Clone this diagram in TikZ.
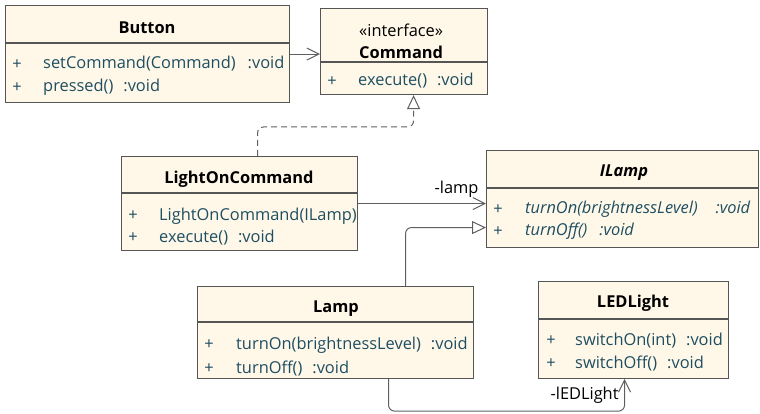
\documentclass[tikz,border=0pt]{standalone}
\usepackage{fontspec}
\setmainfont{Open Sans}
\usetikzlibrary{arrows.meta}

\definecolor{boxfill}{RGB}{255,248,232}
\definecolor{boxline}{RGB}{85,85,85}
\definecolor{membertext}{RGB}{30,78,98}
\definecolor{linkgray}{RGB}{95,95,95}

\tikzset{
  classbox/.style={draw=boxline, fill=boxfill, line width=1.1pt, anchor=north west, inner sep=0pt},
  classname/.style={font=\bfseries, inner sep=0pt},
  plus/.style={text=membertext, inner sep=0pt},
  member/.style={text=membertext, anchor=west, inner sep=0pt, text height=11pt, text depth=3pt},
  sepline/.style={draw=boxline, line width=1.1pt},
  assoc/.style={draw=linkgray, line width=1pt, rounded corners=6pt, -{Straight Barb[length=12pt,width=12pt]}},
  generalize/.style={draw=linkgray, line width=1pt, rounded corners=6pt, -{Triangle[length=14pt,width=13pt,fill=white]}},
}

\begin{document}
\fontsize{16.4}{20}\selectfont
\begin{tikzpicture}[x=1pt, y=-1pt]
    \useasboundingbox (0,0) rectangle (760,414);

    % Button
    \node[classbox, minimum width=284pt, minimum height=97pt] (button) at (5,5) {};
    \draw[sepline] (5,43) -- (289,43);
    \node[classname] (buttonname) at (147,28) {Button};
    \node[plus] (buttonp1) at (17,65) {+};
    \node[member] (buttonm1) at (43,65) {setCommand(Command)\hspace{12pt}:void};
    \node[plus] (buttonp2) at (17,88) {+};
    \node[member] (buttonm2) at (43,88) {pressed()\hspace{10pt}:void};

    % Command (interface)
    \node[classbox, minimum width=167pt, minimum height=86pt] (command) at (320,8) {};
    \draw[sepline] (320,62) -- (487,62);
    \node[inner sep=0pt, anchor=west] (commandstereo) at (359,30) {«interface»};
    \node[classname, anchor=west] (commandname) at (359,52) {Command};
    \node[plus] (commandp1) at (332,82) {+};
    \node[member] (commandm1) at (358,82) {execute()\hspace{10pt}:void};

    % LightOnCommand
    \node[classbox, minimum width=236pt, minimum height=94pt] (lighton) at (121,156) {};
    \draw[sepline] (121,193) -- (357,193);
    \node[classname] (lightonname) at (239,179) {LightOnCommand};
    \node[plus] (lightonp1) at (133,216) {+};
    \node[member] (lightonm1) at (159,216) {LightOnCommand(ILamp)};
    \node[plus] (lightonp2) at (133,238) {+};
    \node[member] (lightonm2) at (159,238) {execute()\hspace{10pt}:void};

    % ILamp (abstract)
    \node[classbox, minimum width=272pt, minimum height=97pt] (ilamp) at (486,150) {};
    \draw[sepline] (486,188) -- (758,188);
    \node[classname, font=\bfseries\itshape] (ilampname) at (624,173) {ILamp};
    \node[plus] (ilampp1) at (498,210) {+};
    \node[member, font=\itshape] (ilampm1) at (525,210) {turnOn(brightnessLevel)\hspace{18pt}:void};
    \node[plus] (ilampp2) at (498,232) {+};
    \node[member, font=\itshape] (ilampm2) at (525,232) {turnOff()\hspace{12pt}:void};

    % Lamp
    \node[classbox, minimum width=276pt, minimum height=92pt] (lamp) at (197,286) {};
    \draw[sepline] (197,322) -- (473,322);
    \node[classname] (lampname) at (336,309) {Lamp};
    \node[plus] (lampp1) at (209,345) {+};
    \node[member] (lampm1) at (236,345) {turnOn(brightnessLevel)\hspace{10pt}:void};
    \node[plus] (lampp2) at (209,369) {+};
    \node[member] (lampm2) at (236,369) {turnOff()\hspace{10pt}:void};

    % LEDLight
    \node[classbox, minimum width=190pt, minimum height=97pt] (ledlight) at (538,281) {};
    \draw[sepline] (538,319) -- (728,319);
    \node[classname] (ledlightname) at (633,303) {LEDLight};
    \node[plus] (ledlightp1) at (551,341) {+};
    \node[member] (ledlightm1) at (575,341) {switchOn(int)\hspace{10pt}:void};
    \node[plus] (ledlightp2) at (551,364) {+};
    \node[member] (ledlightm2) at (575,364) {switchOff()\hspace{10pt}:void};

    % Connectors
    \draw[assoc] (button.east) -- (button.east -| command.west);
    \draw[generalize, dash pattern=on 6pt off 4pt] ([xshift=18pt]lighton.north) -- ++(0,-29) -| ([xshift=9.5pt]command.south);
    \draw[assoc] (lighton.east) -- node[pos=0.77, above] (lamplabel) {-lamp} (lighton.east -| ilamp.west);
    \draw[generalize] ([xshift=70pt]lamp.north) |- ([yshift=-28.5pt]ilamp.west);
    \draw[assoc] ([xshift=53pt]lamp.south) -- ++(0,32) -| node[pos=0.75, left] (ledlabel) {-lEDLight} ([xshift=-9pt]ledlight.south);

\end{tikzpicture}
\end{document}
